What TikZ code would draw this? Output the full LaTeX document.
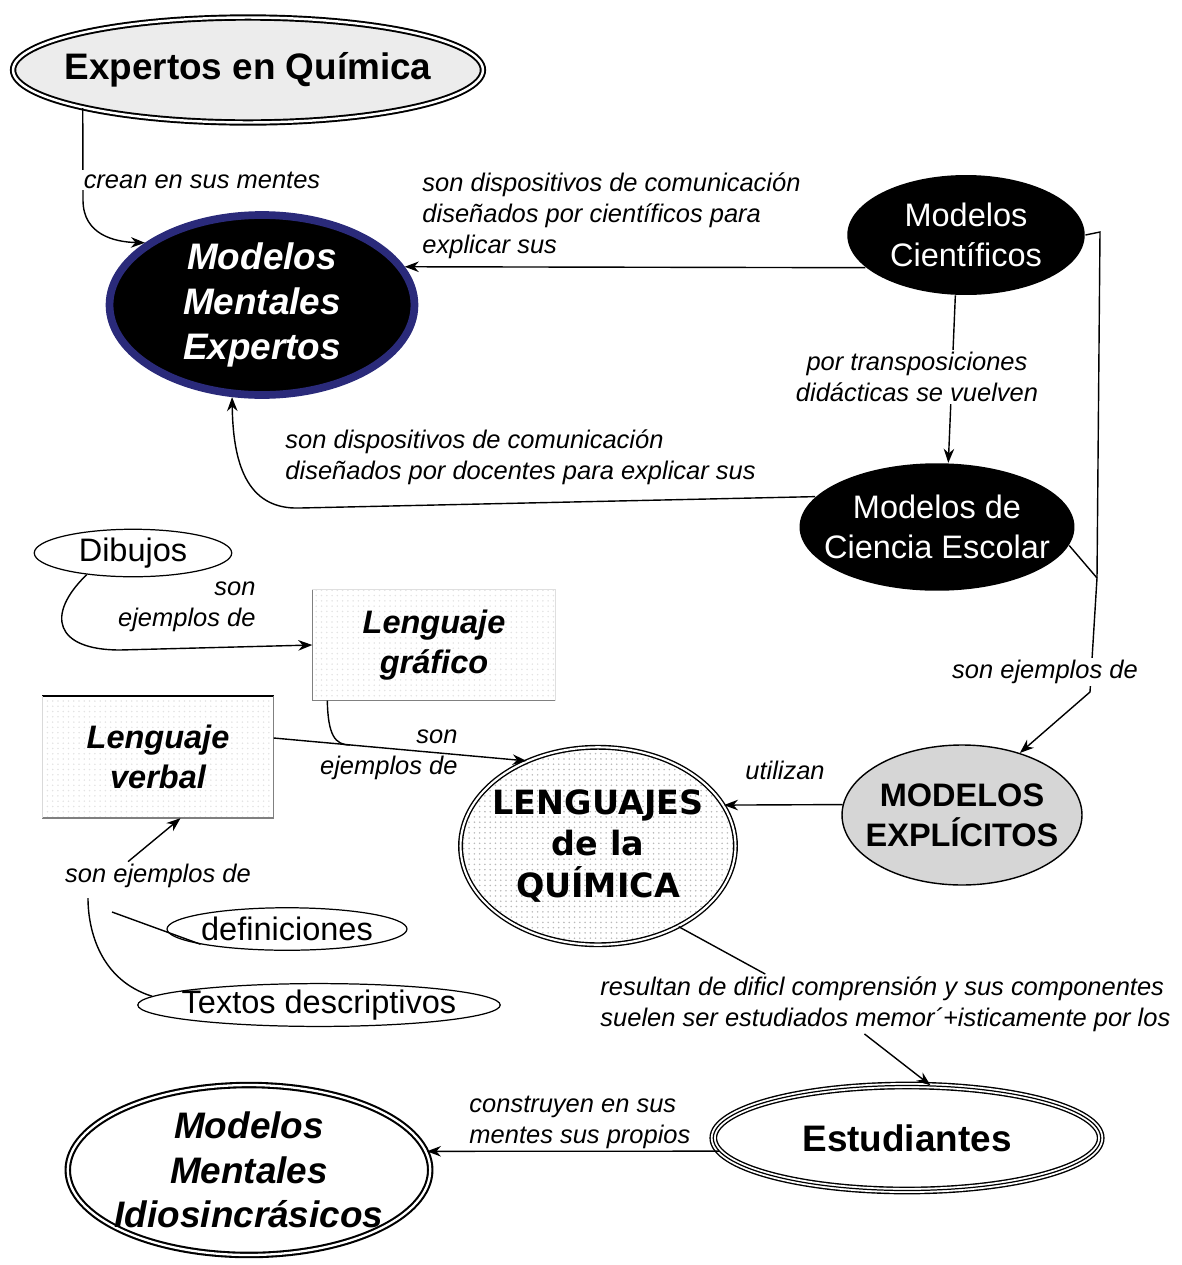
\documentclass[tikz,border=0pt]{standalone}
\usepackage{fontspec}
\setmainfont{Liberation Sans}
\newfontfamily\verdfont{DejaVu Sans}
\usepackage{tikz}
\usetikzlibrary{shapes.geometric, arrows.meta, patterns}

\definecolor{expblue}{RGB}{42,42,122}
\definecolor{paleg}{RGB}{236,236,236}
\definecolor{midg}{RGB}{214,214,214}

\tikzset{
  lbl/.style={font=\fontsize{14.5}{17.6}\selectfont\itshape, inner sep=1pt},
  blackov/.style={ellipse, fill=black, text=white, inner sep=0pt, align=center,
    font=\fontsize{18.5}{22.7}\selectfont},
  plainov/.style={ellipse, draw, line width=0.7pt, inner ysep=0pt, inner xsep=-0.25cm,
    font=\fontsize{18.5}{22}\selectfont},
  tripleov/.style={ellipse, preaction={draw, line width=4.4pt},
    preaction={draw=white, line width=2.8pt}, draw, line width=0.7pt},
}

\begin{document}
\begin{tikzpicture}[x=0.02cm, y=-0.02cm, >={Stealth[length=8pt,width=6pt]}, line width=0.8pt]
    \useasboundingbox (0,0) rectangle (1182,1265);

    % nodes
    \node[draw, ellipse, double, double distance=1.4pt, line width=1.1pt, fill=paleg,
      minimum width=9.4cm, minimum height=2.1cm, inner ysep=0pt, inner xsep=-0.43cm,
      font=\fontsize{21}{25}\selectfont\bfseries] (EQ) at (248,70) {Expertos en Química};
    \node[ellipse, fill=black, draw=expblue, line width=4.4pt, text=white, inner sep=0pt,
      minimum width=6.1cm, minimum height=3.6cm, align=center,
      font=\fontsize{21}{25.5}\selectfont\bfseries\itshape] (MME) at (262,305) {Modelos\\Mentales\\Expertos};
    \node[blackov, minimum width=4.75cm, minimum height=2.4cm] (MC) at (966,235) {Modelos\\Científicos};
    \node[blackov, minimum width=5.5cm, minimum height=2.55cm, inner xsep=-0.35cm] (MCE) at (937,527) {Modelos de\\Ciencia Escolar};
    \node[ellipse, draw, fill=midg, minimum width=4.8cm, minimum height=2.8cm, inner ysep=0pt,
      inner xsep=-0.25cm, align=center, font=\fontsize{18.5}{22.7}\selectfont\bfseries] (MEX) at (962,815) {MODELOS\\EXPLÍCITOS};
    \node[ellipse, draw, double, double distance=1.2pt, line width=0.8pt, pattern=dots,
      pattern color=gray!55, minimum width=5.5cm, minimum height=3.95cm, inner ysep=0pt,
      inner xsep=-0.18cm, align=center, font=\verdfont\fontsize{19}{23.5}\selectfont\bfseries] (LQ) at (598,846) {LENGUAJES\\de la\\QUÍMICA};
    \node[plainov, minimum width=3.95cm, minimum height=0.95cm] (DIB) at (133,553) {Dibujos};
    \node[rectangle, pattern=dots, pattern color=gray!22, minimum width=4.84cm, minimum height=2.2cm,
      align=center, font=\fontsize{18.5}{22.7}\selectfont\bfseries\itshape] (LG) at (434,645) {Lenguaje\\gráfico};
    \node[rectangle, pattern=dots, pattern color=gray!22, minimum width=4.6cm, minimum height=2.42cm,
      align=center, font=\fontsize{18.5}{22.7}\selectfont\bfseries\itshape] (LV) at (158,757) {Lenguaje\\verbal};
    \node[plainov, minimum width=4.8cm, minimum height=0.85cm] (DEF) at (287,929) {definiciones};
    \node[plainov, minimum width=7.25cm, minimum height=0.85cm] (TD) at (319,1005) {Textos descriptivos};
    \node[tripleov, minimum width=7.75cm, minimum height=2.1cm, inner sep=0pt,
      font=\fontsize{21}{25}\selectfont\bfseries] (EST) at (907,1138) {Estudiantes};
    \node[ellipse, draw, double, double distance=1.3pt, line width=1.2pt, minimum width=7.25cm,
      minimum height=3.4cm, inner xsep=-0.16cm, inner ysep=-0.05cm, align=center,
      font=\fontsize{21}{25.5}\selectfont\bfseries\itshape] (MMI) at (249,1170) {Modelos\\Mentales\\Idiosincrásicos};

    % partial box borders
    \draw[gray] (LG.north west) -- (LG.south west) -- (LG.south east);
    \draw[gray!25] (LG.north west) -- (LG.north east) -- (LG.south east);
    \draw (LV.north west) -- (LV.north east);
    \draw[gray] (LV.north east) -- (LV.south east) -- (LV.south west);
    \draw[gray!30] (LV.south west) -- (LV.north west);

    \coordinate (J) at (1097,578);
    \coordinate (M) at (350,745);
    \coordinate (D1) at (112,912);
    \coordinate (T1) at (88,898);

    % connectors
    \draw[->] (EQ.193) -- (83,200) .. controls (83,235) and (115,242) .. (MME.152);
    \draw[->] (MC.198) -- (MME.15);
    \draw[->] (MC.260) -- (MCE.80);
    \draw[->] (MCE.166) -- (300,508) .. controls (245,510) and (233,460) .. (MME.252);
    \draw (MC.east) -- (1100,232) -- (J);
    \draw (MCE.-8) -- (J);
    \draw[->] (J) -- (1090,692) -- (MEX.47);
    \draw[->] (MEX.175) -- (LQ.18);
    \draw[->] (DIB.205) .. controls (45,615) and (55,650) .. (120,650) -- (LG.west);
    \draw[->] ([yshift=0.38cm]LV.east) -- (LQ.130);
    \draw ([xshift=0.3cm]LG.south west) .. controls (328,735) and (335,745) .. (M);
    \draw (DEF.190) -- (D1);
    \draw (TD.177) .. controls (100,980) and (88,930) .. (T1);
    \draw[->] (EST.184) -- (MMI.6);

    % linking words
    \node[lbl, fill=white] (L1) at (202,180) {crean en sus mentes};
    \node[lbl, align=left, anchor=west] (L2) at (420,216) {son dispositivos de comunicación\\diseñados por científicos para\\explicar sus};
    \node[lbl, align=center, fill=white] (L3) at (917,377) {por transposiciones\\didácticas se vuelven};
    \node[lbl, align=left, anchor=west] (L4) at (283,457) {son dispositivos de comunicación\\diseñados por docentes para explicar sus};
    \node[lbl, fill=white] (L5) at (1045,672) {son ejemplos de};
    \node[lbl] (L6) at (785,770) {utilizan};
    \node[lbl, align=right, anchor=east] (L7) at (258,607) {son\\ejemplos de};
    \node[lbl, align=right, anchor=east] (L8) at (460,755) {son\\ejemplos de};
    \node[lbl] (SE) at (158,876) {son ejemplos de};
    \node[lbl, align=left, anchor=west] (RES) at (598,1004) {resultan de dificl comprensión y sus componentes\\suelen ser estudiados memor´+isticamente por los};
    \node[lbl, align=left, anchor=west] (L9) at (467,1122) {construyen en sus\\mentes sus propios};

    \draw[->] ([xshift=-0.6cm]SE.north) -- ([xshift=0.45cm]LV.south);
    \draw (LQ.-45) -- (RES.166);
    \draw[->] (RES.235) -- (EST.66);
\end{tikzpicture}
\end{document}
